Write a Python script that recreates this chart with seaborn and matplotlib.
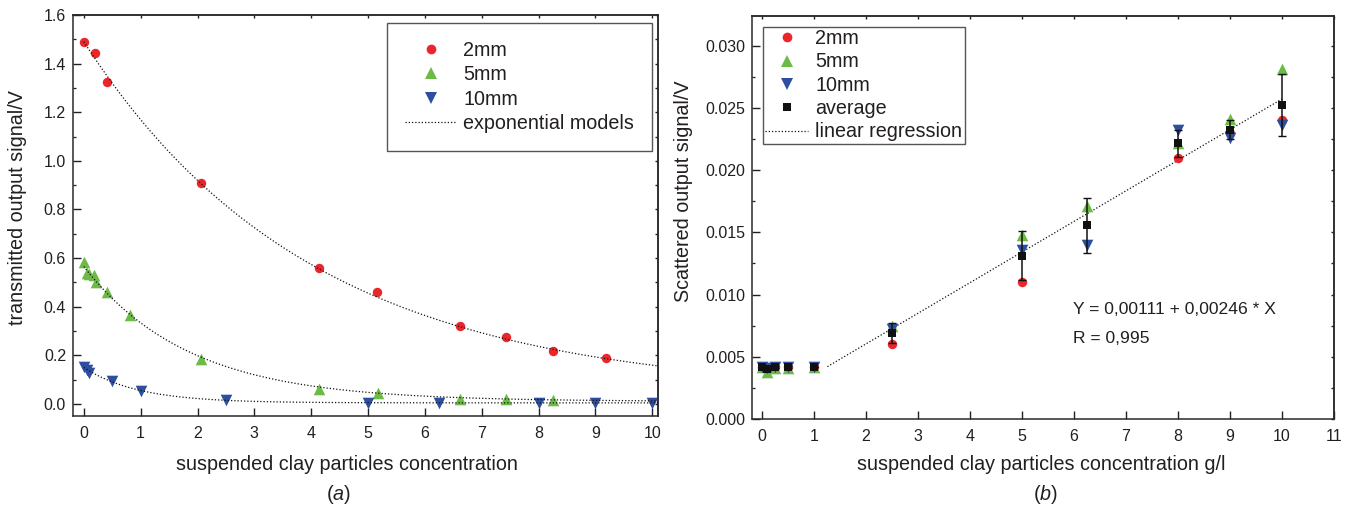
import numpy as np
import pandas as pd
import matplotlib
matplotlib.use("Agg")
import matplotlib.pyplot as plt
from matplotlib.lines import Line2D
from matplotlib.ticker import MultipleLocator, FormatStrFormatter
import seaborn as sns

# ---------------- (a) transmitted signal vs concentration ----------------
x2_a = [0.0, 0.2, 0.41, 2.06, 4.14, 5.16, 6.61, 7.43, 8.26, 9.18]
y2_a = [1.488, 1.445, 1.323, 0.910, 0.560, 0.461, 0.320, 0.276, 0.217, 0.189]
x5_a = [0.0, 0.05, 0.1, 0.18, 0.22, 0.41, 0.82, 2.06, 4.14, 5.17, 6.61, 7.43, 8.26]
y5_a = [0.582, 0.540, 0.535, 0.530, 0.500, 0.461, 0.365, 0.184, 0.063, 0.045, 0.022, 0.018, 0.016]
x10_a = [0.0, 0.05, 0.1, 0.5, 1.0, 2.5, 5.0, 6.25, 8.0, 9.0, 10.0]
y10_a = [0.152, 0.140, 0.128, 0.095, 0.054, 0.015, 0.004, 0.002, 0.003, 0.003, 0.003]

# exponential models  y = y0 + A * exp(-x / t)  for 2mm, 5mm, 10mm
model_y0 = [0.040, 0.010, 0.004]
model_A = [1.450, 0.555, 0.146]
model_t = [4.00, 1.85, 0.95]

# ---------------- (b) scattered signal vs concentration ----------------
conc_b = [0.0, 0.1, 0.25, 0.5, 1.0, 2.5, 5.0, 6.25, 8.0, 9.0, 10.0]
s2_b = [0.0042, 0.0041, 0.0042, 0.0042, 0.0042, 0.0060, 0.0110, np.nan, 0.0210, 0.0230, 0.0240]
s5_b = [0.0042, 0.0038, 0.0041, 0.0041, 0.0042, 0.0075, 0.0148, 0.0171, 0.0222, 0.0241, 0.0281]
s10_b = [0.0042, 0.0041, 0.0042, 0.0042, 0.0042, 0.0072, 0.0136, 0.0140, 0.0232, 0.0226, 0.0236]
fit_intercept = 0.00111
fit_slope = 0.00246
fit_span = [1.26, 10.0]
fit_text = ["Y = 0,00111 + 0,00246 * X", "R = 0,995"]

series_names = ["2mm", "5mm", "10mm"]

# ---------------- style ----------------
sns.set_theme(style="ticks")
plt.rcParams["font.family"] = ["Liberation Sans", "DejaVu Sans"]
plt.rcParams["mathtext.fontset"] = "custom"
plt.rcParams["mathtext.rm"] = "Liberation Sans"
plt.rcParams["mathtext.it"] = "Liberation Sans:italic"
TXT = "#231f20"
plt.rcParams.update({
    "text.color": TXT, "axes.labelcolor": TXT,
    "xtick.color": TXT, "ytick.color": TXT,
    "xtick.direction": "in", "ytick.direction": "in",
    "axes.edgecolor": "#2a2a2a", "axes.linewidth": 1.1,
})
colors = {"2mm": "#e8262b", "5mm": "#6cbb46", "10mm": "#2e4f9f"}
markers = {"2mm": "o", "5mm": "^", "10mm": "v"}
sizes = {"2mm": 46, "5mm": 70, "10mm": 70}
DOT = (0, (1, 1.6))

fig = plt.figure(figsize=(13.55, 5.08), dpi=100)
ax_a = fig.add_axes([73 / 1355, 1 - 416 / 508, 585 / 1355, 401 / 508])
ax_b = fig.add_axes([752 / 1355, 1 - 419 / 508, 582 / 1355, 403.3 / 508])

TICK_FS = 11.5
LABEL_FS = 14.2


def style_axes(ax, xmajor, ymajor, yminor, yfmt):
    ax.xaxis.set_major_locator(MultipleLocator(xmajor))
    ax.yaxis.set_major_locator(MultipleLocator(ymajor))
    ax.yaxis.set_minor_locator(MultipleLocator(yminor))
    ax.yaxis.set_major_formatter(FormatStrFormatter(yfmt))
    ax.tick_params(axis="both", which="major", length=5.5, width=1.0,
                   labelsize=TICK_FS)
    ax.tick_params(axis="x", which="major", pad=7)
    ax.tick_params(axis="y", which="major", pad=5)
    ax.tick_params(axis="y", which="minor", length=2.5, width=0.9)
    for s in ax.spines.values():
        s.set_visible(True)
    # short ticks on the opposite spines
    top = ax.secondary_xaxis("top")
    top.xaxis.set_major_locator(MultipleLocator(xmajor))
    top.tick_params(which="major", direction="in", length=2.0, width=1.0,
                    labeltop=False)
    right = ax.secondary_yaxis("right")
    right.yaxis.set_major_locator(MultipleLocator(ymajor))
    right.yaxis.set_minor_locator(MultipleLocator(yminor))
    right.tick_params(which="both", direction="in", length=2.0, width=1.0,
                      labelright=False)


# ---------------- panel (a) ----------------
df_a = pd.concat([
    pd.DataFrame({"conc": x2_a, "signal": y2_a, "path": "2mm"}),
    pd.DataFrame({"conc": x5_a, "signal": y5_a, "path": "5mm"}),
    pd.DataFrame({"conc": x10_a, "signal": y10_a, "path": "10mm"}),
], ignore_index=True)

xx = np.linspace(0, 10.1, 300)
for y0, A, t in zip(model_y0, model_A, model_t):
    sns.lineplot(x=xx, y=y0 + A * np.exp(-xx / t), ax=ax_a, color="#111111",
                 linestyle=DOT, linewidth=0.9, zorder=3)

for name in series_names:
    sub = df_a[df_a["path"] == name]
    sns.scatterplot(data=sub, x="conc", y="signal", ax=ax_a, color=colors[name],
                    marker=markers[name], s=sizes[name], linewidth=0,
                    legend=False, zorder=2)

ax_a.set_xlim(-0.19, 10.1)
ax_a.set_ylim(-0.05, 1.6)
style_axes(ax_a, 1, 0.2, 0.1, "%.1f")
ax_a.set_xlabel("suspended clay particles concentration", fontsize=LABEL_FS)
ax_a.set_ylabel("transmitted output signal/V", fontsize=LABEL_FS)
ax_a.xaxis.set_label_coords(0.468, -0.122)
ax_a.xaxis.label.set_va("center")
ax_a.yaxis.set_label_coords(-0.095, 0.52)
ax_a.yaxis.label.set_va("center")

handles_a = [Line2D([], [], linestyle="none", marker=markers[n], color=colors[n],
                    markersize=(7 if n == "2mm" else 8), markeredgewidth=0)
             for n in series_names]
handles_a.append(Line2D([], [], color="#111111", linestyle=DOT, linewidth=0.9))
leg_a = ax_a.legend(handles_a, series_names + ["exponential models"],
                    loc="upper right", bbox_to_anchor=(0.9897, 0.980),
                    borderaxespad=0, frameon=True, fancybox=False,
                    fontsize=LABEL_FS, handlelength=2.6, handletextpad=0.35,
                    borderpad=0.9, labelspacing=0.28)
leg_a.get_frame().set_edgecolor("#2a2a2a")
leg_a.get_frame().set_linewidth(1.0)

# ---------------- panel (b) ----------------
df_b = pd.concat([
    pd.DataFrame({"conc": conc_b, "signal": s2_b, "path": "2mm"}),
    pd.DataFrame({"conc": conc_b, "signal": s5_b, "path": "5mm"}),
    pd.DataFrame({"conc": conc_b, "signal": s10_b, "path": "10mm"}),
], ignore_index=True)

xf = np.linspace(fit_span[0], fit_span[1], 100)
sns.lineplot(x=xf, y=fit_intercept + fit_slope * xf, ax=ax_b, color="#111111",
             linestyle=DOT, linewidth=0.9, zorder=2)

for name in series_names:
    sub = df_b[df_b["path"] == name].dropna()
    sns.scatterplot(data=sub, x="conc", y="signal", ax=ax_b, color=colors[name],
                    marker=markers[name], s=sizes[name], linewidth=0,
                    legend=False, zorder=3)

stats = df_b.groupby("conc")["signal"].agg(["mean", "std"]).reset_index()
ax_b.errorbar(stats["conc"], stats["mean"], yerr=stats["std"], fmt="none",
              ecolor="#111111", elinewidth=1.1, capsize=3.2, capthick=1.0,
              zorder=4)
sns.scatterplot(data=stats, x="conc", y="mean", ax=ax_b, color="#111111",
                marker="s", s=40, linewidth=0, legend=False, zorder=5)

ax_b.set_xlim(-0.19, 11)
ax_b.set_ylim(0, 0.0324)
style_axes(ax_b, 1, 0.005, 0.0025, "%.3f")
ax_b.set_xlabel("suspended clay particles concentration g/l", fontsize=LABEL_FS)
ax_b.set_ylabel("Scattered output signal/V", fontsize=LABEL_FS)
ax_b.xaxis.set_label_coords(0.497, -0.114)
ax_b.xaxis.label.set_va("center")
ax_b.yaxis.set_label_coords(-0.118, 0.565)
ax_b.yaxis.label.set_va("center")

ax_b.text(5.975, 0.00882, fit_text[0], fontsize=12.6, va="center", ha="left")
ax_b.text(5.975, 0.00649, fit_text[1], fontsize=12.6, va="center", ha="left")

handles_b = [Line2D([], [], linestyle="none", marker=markers[n], color=colors[n],
                    markersize=(7 if n == "2mm" else 8), markeredgewidth=0)
             for n in series_names]
handles_b.append(Line2D([], [], linestyle="none", marker="s", color="#111111",
                        markersize=6.2, markeredgewidth=0))
handles_b.append(Line2D([], [], color="#111111", linestyle=DOT, linewidth=0.9))
leg_b = ax_b.legend(handles_b, series_names + ["average", "linear regression"],
                    loc="upper left", bbox_to_anchor=(0.0184, 0.9727),
                    borderaxespad=0, frameon=True, fancybox=False,
                    fontsize=LABEL_FS, handlelength=2.2, handletextpad=0.34,
                    borderpad=0.12, labelspacing=0.22)
leg_b.get_frame().set_edgecolor("#2a2a2a")
leg_b.get_frame().set_linewidth(1.0)

# panel captions
fig.text(338 / 1355, 1 - 495 / 508, "($a$)", fontsize=LABEL_FS, ha="center",
         va="center")
fig.text(1045 / 1355, 1 - 495 / 508, "($b$)", fontsize=LABEL_FS, ha="center",
         va="center")

fig.savefig("out.png", dpi=100)
